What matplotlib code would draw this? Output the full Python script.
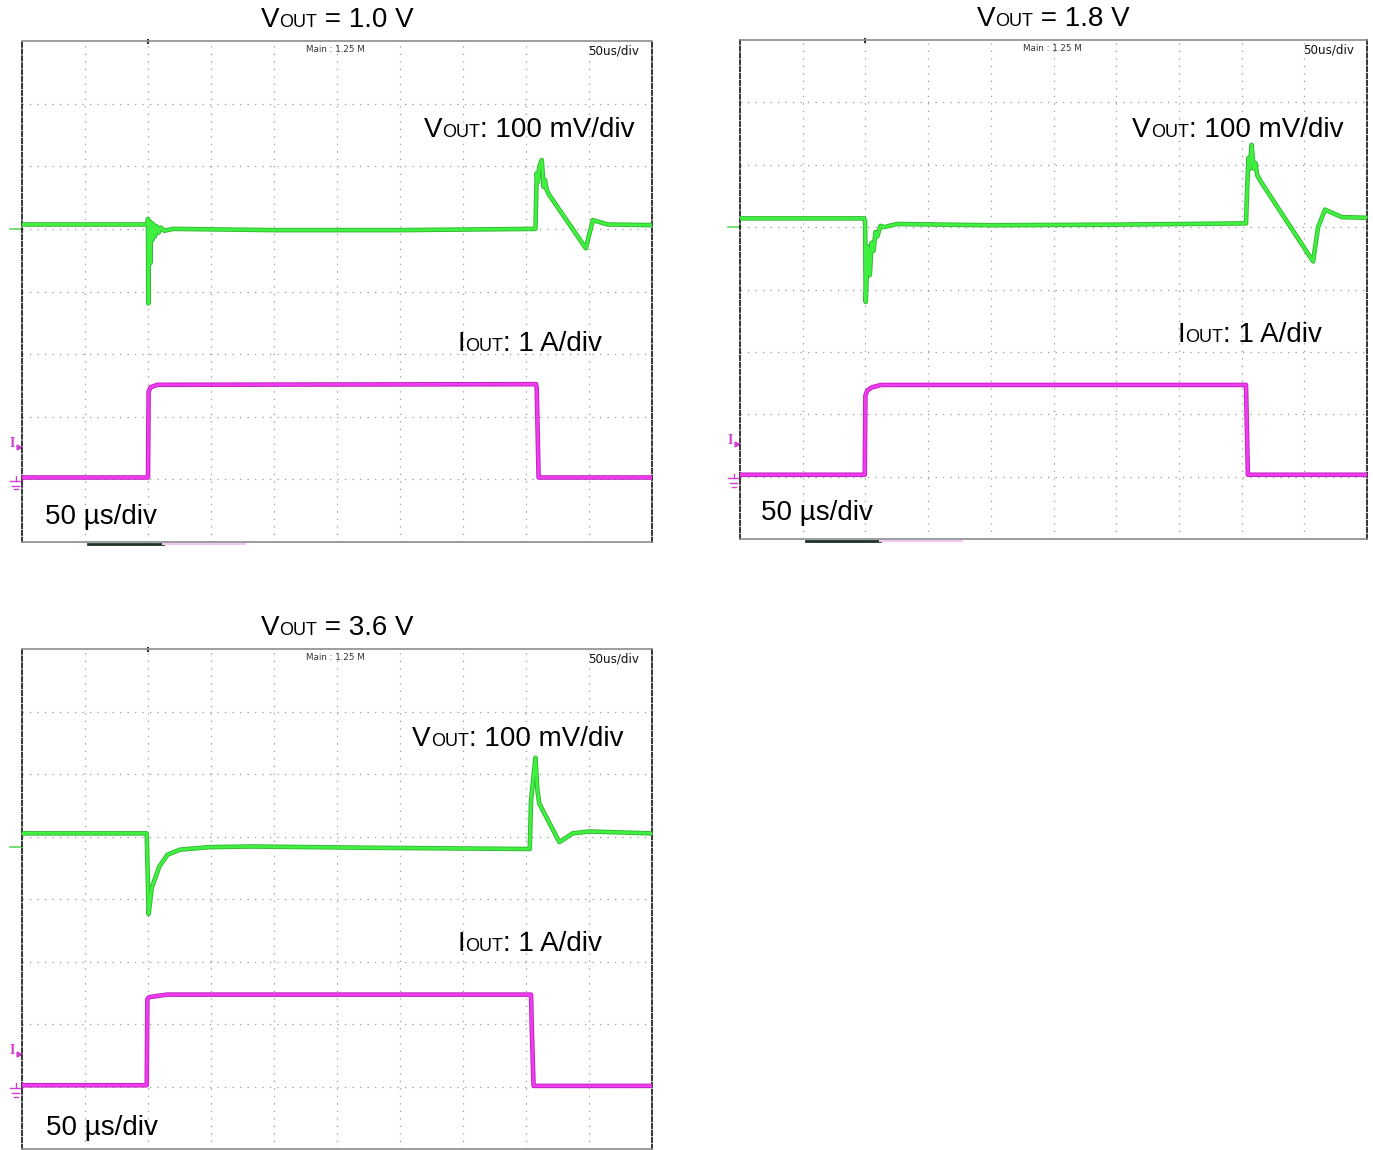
import matplotlib
matplotlib.use("Agg")
import matplotlib.pyplot as plt
from matplotlib.offsetbox import TextArea, HPacker, AnnotationBbox

titles = ["1.0 V", "1.8 V", "3.6 V"]

# VOUT = 1.0 V
v1_t = [0, 1.99, 2.00, 2.005, 2.02, 2.035, 2.05, 2.07, 2.09, 2.11, 2.14, 2.17, 2.20, 2.26, 2.4,
        4.0, 6.0, 8.15, 8.17, 8.19, 8.21, 8.25, 8.28, 8.30, 8.33, 8.37, 8.95, 9.06, 9.3, 10.0]
v1_v = [5.07, 5.07, 5.16, 3.81, 5.12, 4.45, 5.10, 4.82, 5.07, 4.88, 5.04, 4.94, 5.02, 4.97, 5.00,
        4.98, 4.98, 5.00, 5.89, 5.75, 5.99, 6.10, 5.67, 5.78, 5.62, 5.54, 4.69, 5.14, 5.07, 5.06]
i1_t = [0, 2.0, 2.01, 2.04, 2.15, 8.16, 8.17, 8.18, 8.20, 10]
i1_v = [1.03, 1.03, 2.40, 2.47, 2.51, 2.52, 2.45, 2.0, 1.03, 1.03]

# VOUT = 1.8 V
v2_t = [0, 1.98, 1.995, 2.005, 2.04, 2.07, 2.10, 2.13, 2.16, 2.19, 2.24, 2.3, 2.5,
        4.0, 6.0, 8.07, 8.09, 8.11, 8.13, 8.16, 8.19, 8.22, 8.25, 8.30, 9.14, 9.22, 9.33, 9.6, 10]
v2_v = [5.14, 5.14, 5.10, 3.80, 4.69, 4.23, 4.75, 4.62, 4.92, 4.85, 5.02, 5.00, 5.05,
        5.03, 5.04, 5.06, 5.66, 6.11, 5.94, 6.32, 5.94, 6.03, 5.83, 5.74, 4.45, 5.00, 5.28, 5.16, 5.15]
i2_t = [0, 1.99, 2.0, 2.03, 2.1, 2.25, 8.07, 8.08, 8.10, 10]
i2_v = [1.03, 1.03, 2.30, 2.38, 2.43, 2.47, 2.47, 2.0, 1.03, 1.03]

# VOUT = 3.6 V
v3_t = [0, 1.98, 1.99, 2.01, 2.06, 2.18, 2.31, 2.51, 2.98, 3.65, 5.5, 8.06,
        8.08, 8.11, 8.15, 8.18, 8.21, 8.25, 8.53, 8.74, 9.0, 10]
v3_v = [5.05, 5.05, 4.60, 3.76, 4.18, 4.52, 4.71, 4.79, 4.83, 4.84, 4.82, 4.80,
        5.58, 5.87, 6.26, 5.75, 5.53, 5.45, 4.91, 5.05, 5.08, 5.05]
i3_t = [0, 1.98, 1.99, 2.02, 2.3, 8.08, 8.09, 8.12, 10]
i3_v = [1.02, 1.02, 2.40, 2.43, 2.47, 2.47, 2.0, 1.01, 1.01]

green_ref = [5.0, 5.0, 4.83]

# posición de cada pantalla en píxeles: izquierda, arriba, ancho, alto
W, H = 1373, 1150
boxes = [(22, 41, 630, 501), (740, 40, 627, 499), (22, 649, 630, 500)]
vlabel_pos = [(9.73, 6.58), (9.62, 6.56), (9.54, 6.56)]
ilabel_pos = [(9.21, 3.16), (9.28, 3.27), (9.21, 3.28)]
tlabel_pos = [(0.37, 0.40), (0.33, 0.41), (0.38, 0.34)]

FONT = "Liberation Sans"
BIG, SMALL = 20, 13


def rich(ax, xy, parts, align, coords="data"):
    kids = [TextArea(s, textprops=dict(fontsize=fs, family=FONT, color="black"))
            for s, fs in parts]
    pack = HPacker(children=kids, align="baseline", pad=0, sep=0)
    ab = AnnotationBbox(pack, xy, xycoords=coords, frameon=False, pad=0,
                        box_alignment=align, annotation_clip=False)
    ax.add_artist(ab)


fig = plt.figure(figsize=(W / 100, H / 100), dpi=100)

data = [(v1_t, v1_v, i1_t, i1_v), (v2_t, v2_v, i2_t, i2_v), (v3_t, v3_v, i3_t, i3_v)]

for k, (vt, vv, it, iv) in enumerate(data):
    left, top, w, h = boxes[k]
    ax = fig.add_axes([left / W, 1 - (top + h) / H, w / W, h / H])
    ax.set_xlim(0, 10)
    ax.set_ylim(0, 8)
    ax.set_xticks(range(1, 10))
    ax.set_yticks(range(1, 8))
    ax.tick_params(length=0, labelbottom=False, labelleft=False)
    ax.grid(True, color="#9a9a9a", linestyle=(0, (1, 5)), linewidth=0.9)
    for s in ["top", "bottom"]:
        ax.spines[s].set_color("#8c8c8c")
        ax.spines[s].set_linewidth(1.2)
    for s in ["left", "right"]:
        ax.spines[s].set_color("black")
        ax.spines[s].set_linestyle((0, (3, 1.5)))
        ax.spines[s].set_linewidth(1.1)

    # trazas
    ax.plot(vt, vv, color="#34b834", lw=3.3, zorder=3)
    ax.plot(vt, vv, color="#40f040", lw=2.0, zorder=4)
    ax.plot(it, iv, color="#c020c0", lw=3.3, zorder=3)
    ax.plot(it, iv, color="#ee3cee", lw=2.0, zorder=4)

    # marcadores de canal a la izquierda
    ax.plot([-0.19, 0], [green_ref[k]] * 2, color="#5ed85e", lw=1.2, clip_on=False)
    ax.text(-0.2, 1.58, "I", color="#d040d0", fontsize=10, family="Liberation Serif",
            fontweight="bold", va="center", ha="left")
    ax.plot([-0.05], [1.52], marker=">", color="#d040d0", ms=3.5, clip_on=False)
    ax.plot([-0.19, 0], [0.97, 0.97], color="#d040d0", lw=1.0, clip_on=False)
    ax.plot([-0.16, -0.04], [0.90, 0.90], color="#d040d0", lw=1.0, clip_on=False)
    ax.plot([-0.13, -0.07], [0.84, 0.84], color="#d040d0", lw=1.0, clip_on=False)
    ax.plot([-0.1, -0.1], [0.97, 1.05], color="#d040d0", lw=1.0, clip_on=False)
    # barra bajo la pantalla
    ax.plot([1.05, 2.24], [-0.03, -0.03], color="#1e3326", lw=2.0, clip_on=False)
    ax.plot([2.24, 3.54], [-0.03, -0.03], color="#f2c8f2", lw=1.5, clip_on=False)
    ax.plot([2.0, 2.0], [7.97, 8.02], color="#333333", lw=1.5, clip_on=False)

    # textos del osciloscopio
    ax.text(4.98, 7.87, "Main : 1.25 M", fontsize=6.3, color="#333333",
            ha="center", va="center")
    ax.text(9.79, 7.84, "50us/div", fontsize=8.6, color="#111111",
            ha="right", va="center")

    # etiquetas
    rich(ax, vlabel_pos[k], [("V", BIG), ("OUT", SMALL), (": 100 mV/div", BIG)], (1, 0.5))
    rich(ax, ilabel_pos[k], [("I", BIG), ("OUT", SMALL), (": 1 A/div", BIG)], (1, 0.5))
    ax.text(tlabel_pos[k][0], tlabel_pos[k][1], "50 µs/div", fontsize=BIG, family=FONT,
            ha="left", va="center")
    rich(ax, (0.5, 1.042), [("V", BIG), ("OUT", SMALL), (" = " + titles[k], BIG)],
         (0.5, 0.5), coords="axes fraction")

fig.savefig("out.png", dpi=100)
